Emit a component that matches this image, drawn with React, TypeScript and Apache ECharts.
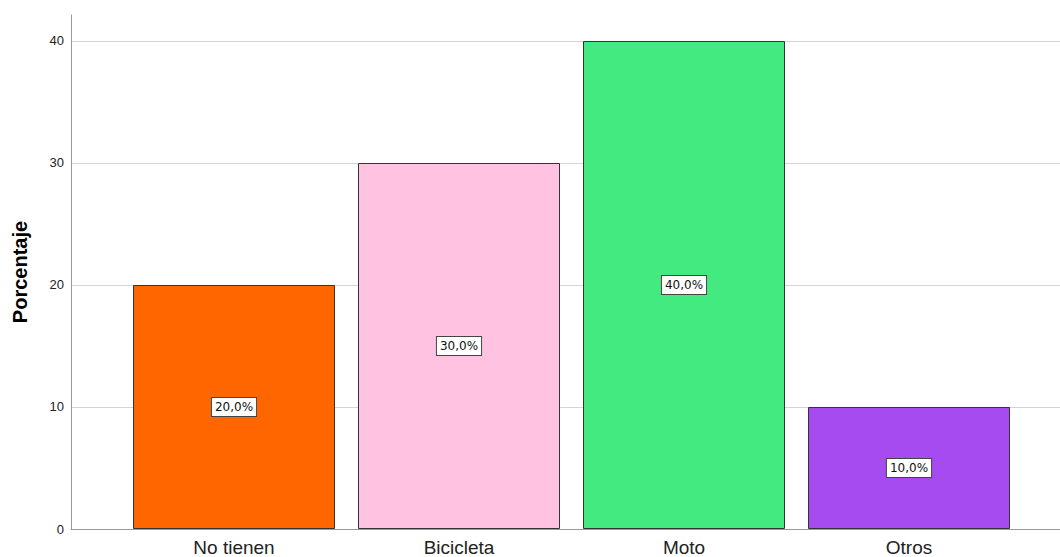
import React, { useEffect, useRef } from "react";
import * as echarts from "echarts";

const categories = ["No tienen", "Bicicleta", "Moto", "Otros"];
const values = [20, 30, 40, 10];
const colors = ["#FF6600", "#FFC3E1", "#43EA80", "#A64BF0"];
const yTicks = [0, 10, 20, 30, 40];

export default function App() {
  const ref = useRef<HTMLDivElement>(null);
  useEffect(() => {
    const chart = echarts.init(ref.current!, null, { renderer: "svg" });
    const yMax = 42.13;
    const font = "Liberation Sans, Arial, sans-serif";
    chart.setOption({
      animation: false,
      grid: [
        { left: 71, right: 0, top: 15, bottom: 28 },
        { left: 121.5, width: 900, top: 15, bottom: 28 },
      ],
      xAxis: [
        {
          type: "value",
          gridIndex: 0,
          min: 0,
          max: 1,
          axisLine: { show: true, onZero: false, lineStyle: { color: "#999", width: 1 } },
          axisTick: { show: false },
          axisLabel: { show: false },
          splitLine: { show: false },
        },
        {
          type: "category",
          gridIndex: 1,
          data: categories,
          axisLine: { show: false },
          axisTick: { show: false },
          axisLabel: { fontSize: 19, color: "#222", fontFamily: font, margin: 9 },
        },
      ],
      yAxis: [
        {
          type: "value",
          gridIndex: 0,
          min: 0,
          max: yMax,
          interval: 10,
          name: "Porcentaje",
          nameLocation: "middle",
          nameGap: 41,
          nameTextStyle: { fontSize: 20, fontWeight: "bold", color: "#000", fontFamily: font },
          axisLine: { show: true, lineStyle: { color: "#999", width: 1 } },
          axisTick: { show: false },
          axisLabel: {
            fontSize: 13,
            color: "#222",
            fontFamily: font,
            margin: 7,
            showMaxLabel: false,
            formatter: (v: number) => (yTicks.includes(v) ? String(v) : ""),
          },
          splitLine: { show: true, showMaxLine: false, lineStyle: { color: "#d4d4d4", width: 1 } },
        },
        {
          type: "value",
          gridIndex: 1,
          min: 0,
          max: yMax,
          show: false,
          splitLine: { show: false },
        },
      ],
      series: [
        {
          type: "bar",
          xAxisIndex: 1,
          yAxisIndex: 1,
          barWidth: 202,
          data: values.map((v, i) => ({
            value: v,
            itemStyle: { color: colors[i], borderColor: "#333", borderWidth: 1 },
          })),
          label: {
            show: true,
            position: "inside",
            formatter: (p: any) => p.value.toFixed(1).replace(".", ",") + "%",
            fontSize: 12,
            lineHeight: 15,
            color: "#111",
            fontFamily: "DejaVu Sans, sans-serif",
            backgroundColor: "#fff",
            borderColor: "#444",
            borderWidth: 1,
            padding: [2, 3, 1, 3],
          },
        },
      ],
    });
    return () => chart.dispose();
  }, []);
  return <div ref={ref} style={{ width: 1060, height: 557, position: "absolute", left: 0, top: 0 }} />;
}
